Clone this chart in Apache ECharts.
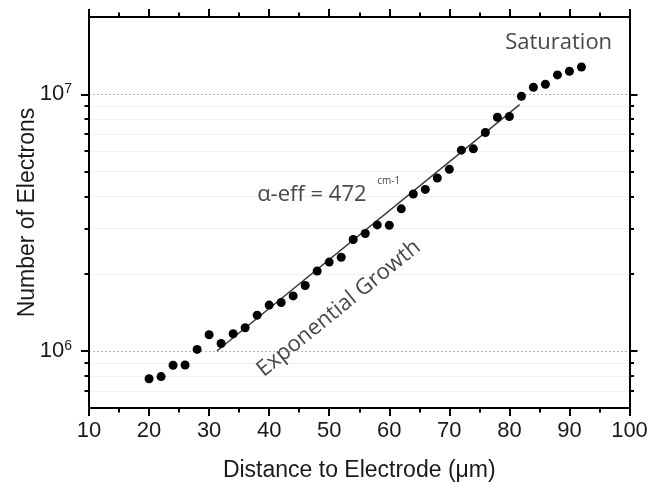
<!DOCTYPE html>
<html>
<head>
<meta charset="utf-8">
<script src="https://cdn.jsdelivr.net/npm/echarts@6/dist/echarts.min.js"></script>
<style>
html, body { margin: 0; padding: 0; background: #fff; }
#chart { width: 651px; height: 482px; }
</style>
</head>
<body>
<div id="chart"></div>
<script>
// Measured electron counts along the gap
const distance = [20, 22, 24, 26, 28, 30, 32, 34, 36, 38, 40, 42, 44, 46, 48, 50, 52, 54, 56,
                  58, 60, 62, 64, 66, 68, 70, 72, 74, 76, 78, 80, 82, 84, 86, 88, 90, 92];
const electrons = [7.8e5, 7.95e5, 8.8e5, 8.82e5, 1.015e6, 1.157e6, 1.07e6, 1.168e6, 1.232e6, 1.38e6,
                   1.51e6, 1.546e6, 1.64e6, 1.80e6, 2.05e6, 2.22e6, 2.32e6, 2.72e6, 2.87e6,
                   3.10e6, 3.09e6, 3.58e6, 4.09e6, 4.26e6, 4.72e6, 5.10e6, 6.06e6, 6.13e6, 7.10e6,
                   8.14e6, 8.19e6, 9.83e6, 1.065e7, 1.094e7, 1.19e7, 1.23e7, 1.277e7];

// Exponential-growth fit segment
const fitDistance = [31.3, 81.7];
const fitElectrons = [1.0e6, 9.12e6];

// Axis ranges and ticks
const xRange = [10, 100];
const xStep = 10;
const yRange = [6e5, 2e7];
const yMajor = [1e6, 1e7];
const yMinor = [7e5, 8e5, 9e5, 2e6, 3e6, 4e6, 5e6, 6e6, 7e6, 8e6, 9e6];

// Annotation texts
const saturationText = 'Saturation';
const alphaText = 'α-eff = 472';
const alphaUnit = 'cm-1';
const growthText = 'Exponential Growth';

const FONT = '"Liberation Sans", Arial, sans-serif';
const NOTE_FONT = '"Open Sans", "Noto Sans", sans-serif';
const INK = '#1a1a1a';

const chart = echarts.init(document.getElementById('chart'), null, { renderer: 'canvas' });

const frameLine = { show: true, onZero: false, lineStyle: { color: '#000', width: 2 } };
const tickStyle = { color: '#000', width: 2 };

function xAxisDef(pos, withLabels) {
  return {
    type: 'value', position: pos, min: xRange[0], max: xRange[1], interval: xStep,
    axisLine: frameLine,
    axisTick: { show: true, inside: false, length: 8, lineStyle: tickStyle },
    minorTick: { show: true, splitNumber: 2, length: 4.5, lineStyle: tickStyle },
    splitLine: { show: false },
    axisLabel: withLabels
      ? { show: true, margin: 12, fontSize: 22, fontFamily: FONT, color: INK }
      : { show: false },
    name: withLabels ? 'Distance to Electrode (μm)' : '',
    nameLocation: 'middle', nameGap: 51, nameMoveOverlap: false,
    nameTextStyle: { fontSize: 23, fontFamily: FONT, color: INK }
  };
}

function yAxisDef(pos, values, major, withLabels) {
  const ax = {
    type: 'log', logBase: 10, position: pos, min: yRange[0], max: yRange[1],
    axisLine: major ? frameLine : { show: false },
    axisTick: { show: true, inside: false, length: major ? 8 : 4.5, customValues: values, lineStyle: tickStyle },
    minorTick: { show: false },
    axisLabel: { show: false },
    splitLine: { show: false }
  };
  if (withLabels) {
    ax.axisLabel = {
      show: true, customValues: values, margin: 17,
      formatter: v => '{b|10}{s|' + Math.round(Math.log10(v)) + '}',
      rich: {
        b: { fontSize: 22, fontFamily: FONT, color: INK },
        s: { fontSize: 14, fontFamily: FONT, color: INK, verticalAlign: 'top', padding: [0, 0, 10, 0] }
      }
    };
    ax.name = 'Number of Electrons';
    ax.nameLocation = 'middle';
    ax.nameGap = 50;
    ax.nameMoveOverlap = false;
    ax.nameTextStyle = { fontSize: 23, fontFamily: FONT, color: INK };
  }
  if (pos === 'left') {
    ax.splitLine = major
      ? { show: true, lineStyle: { color: '#b3b3b3', width: 1, type: [2, 2] } }
      : { show: true, lineStyle: { color: '#f0f0f0', width: 1 } };
  }
  return ax;
}

chart.setOption({
  animation: false,
  backgroundColor: '#fff',
  grid: { left: 89, right: 21.5, top: 17, bottom: 74, containLabel: false, outerBoundsMode: 'none' },
  xAxis: [xAxisDef('bottom', true), xAxisDef('top', false)],
  yAxis: [
    yAxisDef('left', yMajor, true, true),
    yAxisDef('left', yMinor, false, false),
    yAxisDef('right', yMajor, true, false),
    yAxisDef('right', yMinor, false, false)
  ],
  series: [
    {
      type: 'line', xAxisIndex: 0, yAxisIndex: 0,
      data: fitDistance.map((d, i) => [d, fitElectrons[i]]),
      showSymbol: false, symbol: 'none',
      lineStyle: { color: '#3a3a3a', width: 1.5 },
      z: 2
    },
    {
      type: 'scatter', xAxisIndex: 0, yAxisIndex: 0,
      data: distance.map((d, i) => [d, electrons[i]]),
      symbol: 'circle', symbolSize: 9,
      itemStyle: { color: '#000', opacity: 1 },
      z: 3
    }
  ]
});

// Text annotations placed in data coordinates
function px(x, y) { return chart.convertToPixel({ xAxisIndex: 0, yAxisIndex: 0 }, [x, y]); }
const pSat = px(88.2, 1.585e7);
const pAlpha = px(38.0, 4.06e6);
const pUnit = px(58.0, 4.6e6);
const pGrowth = px(51.6, 1.466e6);
const noteStyle = { fill: '#484848', fontFamily: NOTE_FONT, fontSize: 22 };

chart.setOption({
  graphic: [
    { type: 'text', x: pSat[0], y: pSat[1], z: 10,
      style: Object.assign({ text: saturationText, align: 'center', verticalAlign: 'middle' }, noteStyle) },
    { type: 'text', x: pAlpha[0], y: pAlpha[1], z: 10,
      style: Object.assign({ text: alphaText, align: 'left', verticalAlign: 'middle' }, noteStyle) },
    { type: 'text', x: pUnit[0], y: pUnit[1], z: 10,
      style: { text: alphaUnit, align: 'left', verticalAlign: 'middle', fill: '#484848', fontFamily: NOTE_FONT, fontSize: 10 } },
    { type: 'text', x: pGrowth[0], y: pGrowth[1], rotation: 39 * Math.PI / 180, z: 10,
      style: Object.assign({ text: growthText, align: 'center', verticalAlign: 'middle' }, noteStyle) }
  ]
});
</script>
</body>
</html>
